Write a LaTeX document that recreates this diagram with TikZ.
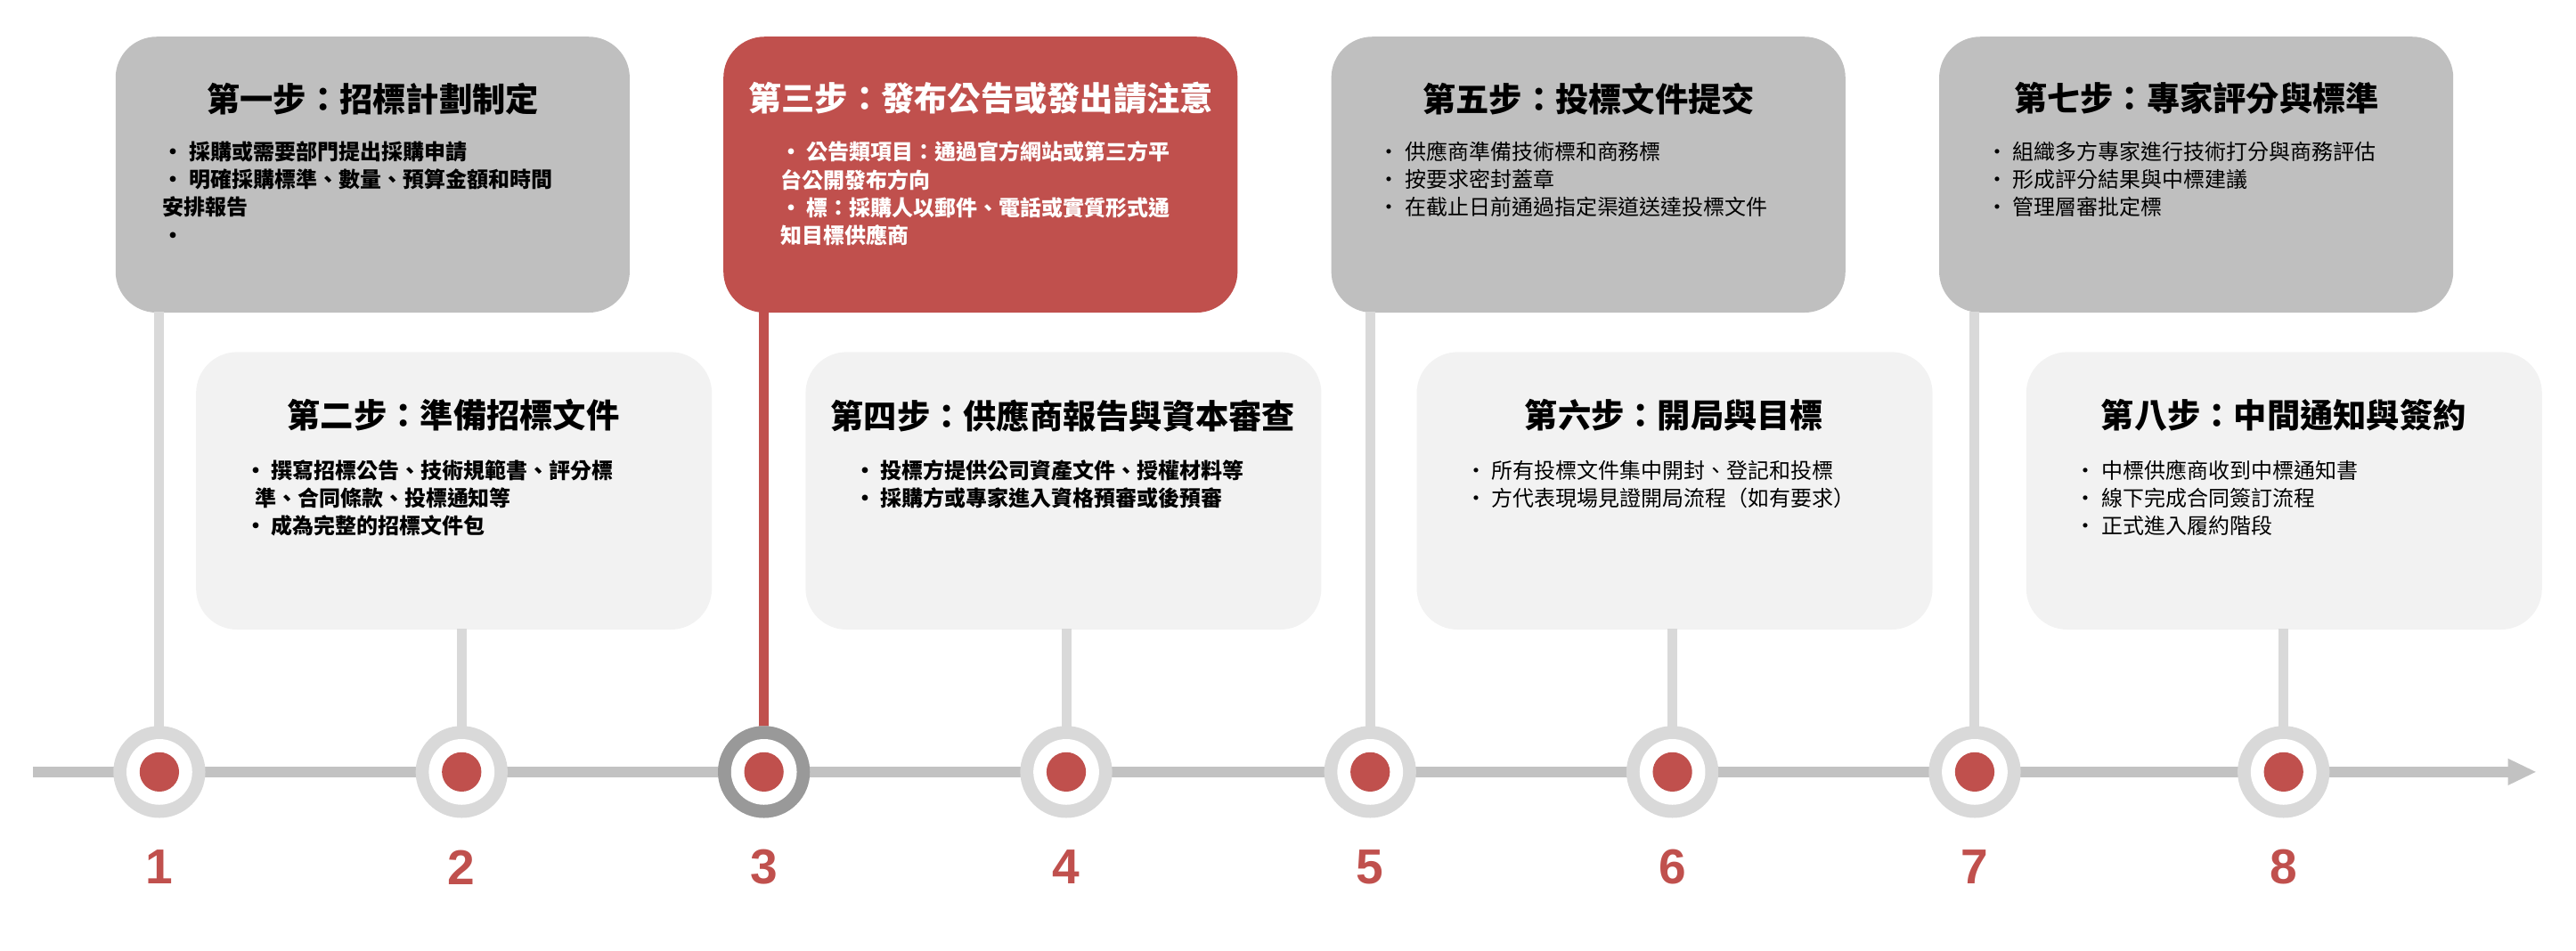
\documentclass[tikz,border=0pt]{standalone}
\usepackage{fontspec}
\setmainfont{Noto Sans CJK TC}
\newfontfamily\numfont{Liberation Sans}
\usetikzlibrary{arrows.meta}
\definecolor{rd}{HTML}{C0504D}
\definecolor{gt}{HTML}{BFBFBF}
\definecolor{gb}{HTML}{F2F2F2}
\definecolor{ln}{HTML}{D9D9D9}
\begin{document}
\begin{tikzpicture}[x=0.02cm,y=-0.02cm,
 topbox/.style={fill=gt,rounded corners=0.5cm,minimum width=6.26cm,minimum height=3.36cm,anchor=north west},
 botbox/.style={fill=gb,rounded corners=0.5cm,minimum width=6.28cm,minimum height=3.38cm,anchor=north west},
 ttl/.style={font=\fontsize{11.5}{13}\selectfont\bfseries,anchor=center},
 txt/.style={font=\fontsize{7.4}{9.6}\selectfont,align=left,anchor=north west},
 vline/.style={draw=ln,line width=3.4pt},
 num/.style={font=\numfont\fontsize{17}{18}\selectfont\bfseries,text=rd}]
\useasboundingbox (0,0) rectangle (1568,579);
% timeline
\draw[draw=gt!80!black!60,line width=3.6pt,-{Triangle[length=0.35cm,width=0.3cm]}] (20,470) coordinate(ts) -- (1544,470) coordinate(te);
% boxes
\node[topbox] (b1) at (70,22) {};
\node[topbox,fill=rd] (b3) at (440,22) {};
\node[topbox] (b5) at (810,22) {};
\node[topbox] (b7) at (1180,22) {};
\node[botbox] (b2) at (119,214) {};
\node[botbox] (b4) at (490,214) {};
\node[botbox] (b6) at (862,214) {};
\node[botbox] (b8) at (1233,214) {};
% circles
\foreach \i/\x in {1/97,2/281,3/465,4/649,5/834,6/1018,7/1202,8/1390}{
  \coordinate (c\i) at (\x,470);
}
\foreach \i/\x/\yy in {1/97/190,5/834/190,7/1202/190,2/281/383,4/649/383,6/1018/383,8/1390/383}{
  \coordinate (v\i) at (\x,\yy);
  \draw[vline] (v\i) -- (c\i);
}
\coordinate (v3) at (465,190);
\draw[vline,draw=rd] (v3) -- (c3);
\foreach \i in {1,...,8}{
  \fill[ln] (c\i) circle (0.56cm);
  \fill[white] (c\i) circle (0.4cm);
  \fill[rd] (c\i) circle (0.24cm);
}
\fill[black!40] (c3) circle (0.56cm);
\fill[white] (c3) circle (0.4cm);
\fill[rd] (c3) circle (0.24cm);
\foreach \i/\x in {1/97,2/281,3/465,4/649,5/834,6/1018,7/1202,8/1390}{
  \node[num] (n\i) at (\x,528) {\i};
}
% titles
\node[ttl] at (227,60) {第一步：招標計劃制定};
\node[ttl,text=white] at (597,60) {第三步：發布公告或發出請注意};
\node[ttl] at (967,60) {第五步：投標文件提交};
\node[ttl] at (1337,60) {第七步：專家評分與標準};
\node[ttl] at (276,253) {第二步：準備招標文件};
\node[ttl] at (647,253) {第四步：供應商報告與資本審查};
\node[ttl] at (1019,253) {第六步：開局與目標};
\node[ttl] at (1390,253) {第八步：中間通知與簽約};
% texts
\node[txt,font=\fontsize{7.4}{9.6}\selectfont\bfseries] at (93,80) {•\ 採購或需要部門提出採購申請\\•\ 明確採購標準、數量、預算金額和時間\\安排報告\\•};
\node[txt,text=white,font=\fontsize{7.4}{9.6}\selectfont\bfseries] at (463,80) {\ \ •\ 公告類項目：通過官方網站或第三方平\\\ \ 台公開發布方向\\\ \ •\ 標：採購人以郵件、電話或實質形式通\\\ \ 知目標供應商};
\node[txt] at (833,80) {•\ 供應商準備技術標和商務標\\•\ 按要求密封蓋章\\•\ 在截止日前通過指定渠道送達投標文件};
\node[txt] at (1203,80) {•\ 組織多方專家進行技術打分與商務評估\\•\ 形成評分結果與中標建議\\•\ 管理層審批定標};
\node[txt,font=\fontsize{7.4}{9.6}\selectfont\bfseries] at (143,274) {•\ 撰寫招標公告、技術規範書、評分標\\\ \ 準、合同條款、投標通知等\\•\ 成為完整的招標文件包};
\node[txt,font=\fontsize{7.4}{9.6}\selectfont\bfseries] at (514,274) {•\ 投標方提供公司資產文件、授權材料等\\•\ 採購方或專家進入資格預審或後預審};
\node[txt] at (886,274) {•\ 所有投標文件集中開封、登記和投標\\•\ 方代表現場見證開局流程（如有要求）};
\node[txt] at (1257,274) {•\ 中標供應商收到中標通知書\\•\ 線下完成合同簽訂流程\\•\ 正式進入履約階段};
\end{tikzpicture}
\end{document}
